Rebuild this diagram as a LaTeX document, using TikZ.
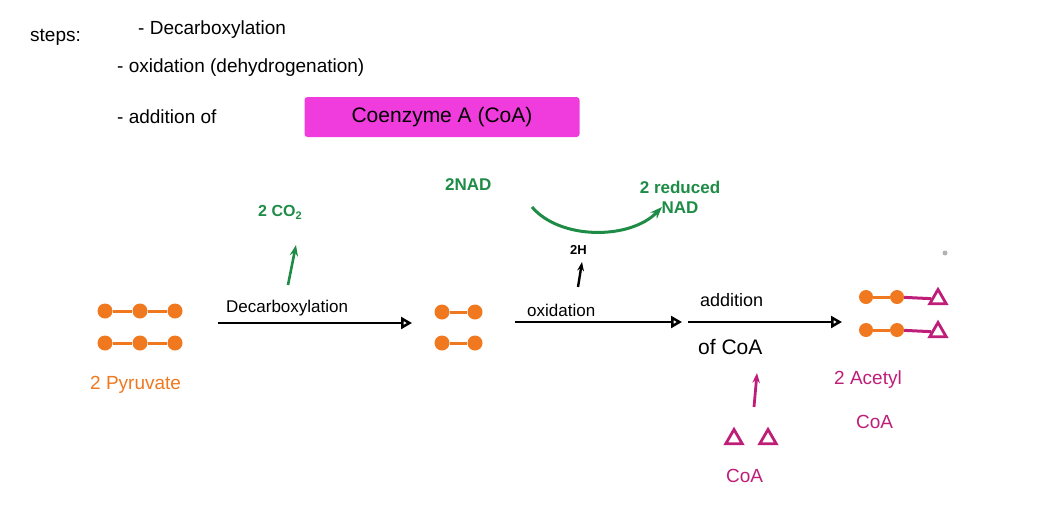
\documentclass[tikz,border=0pt]{standalone}
\usepackage{fontspec}
\setmainfont{Liberation Sans}
\usetikzlibrary{arrows.meta,shapes.geometric}
\definecolor{org}{RGB}{240,120,30}
\definecolor{grn}{RGB}{30,140,70}
\definecolor{mag}{RGB}{190,30,120}
\definecolor{pink}{RGB}{240,60,220}
\begin{document}
\begin{tikzpicture}[x=1pt,y=-1pt,
  txt/.style={font=\fontsize{19}{21}\selectfont,anchor=west,inner sep=0},
  ball/.style={circle,fill=org,minimum size=15pt,inner sep=0},
  tri/.style={draw=mag,line width=2.8pt,regular polygon,regular polygon sides=3,minimum size=19pt,inner sep=0},
  flow/.style={line width=2.5pt,-{Triangle[open,length=11pt,width=12pt]}},
  bond/.style={line width=3pt}]
\useasboundingbox (0,0) rectangle (1054,509);
\node[txt] (s) at (30,37) {steps:};
\node[txt] (s1) at (138,30) {- Decarboxylation};
\node[txt] (s2) at (117,68) {- oxidation (dehydrogenation)};
\node[txt] (s3) at (117,117) {- addition of};
\node[fill=pink,rounded corners=3pt,minimum width=275pt,minimum height=40pt,font=\fontsize{21}{23}\selectfont] (coe) at (442,117) {Coenzyme A (CoA)};
% pyruvate
\foreach \y/\r in {311/a,343/b}{
 \node[ball] (p\r1) at (105,\y) {};\node[ball] (p\r2) at (140,\y) {};\node[ball] (p\r3) at (175,\y) {};
 \draw[org,bond] (p\r1)--(p\r2)--(p\r3);}
\node[txt,text=org] (pyr) at (90,385) {2 Pyruvate};
\coordinate (d1) at (218,323); \coordinate (d2) at (412,323);
\draw[flow] (d1)--(d2);
\node[txt,font=\fontsize{17}{19}\selectfont] (dl) at (226,308) {Decarboxylation};
\node[txt,text=grn,font=\bfseries\fontsize{16}{18}\selectfont] (co2) at (258,212) {2 CO\raisebox{-0.35ex}{\fontsize{11}{12}\selectfont 2}};
\coordinate (c1) at (288,285); \coordinate (c2) at (296,245);
\draw[grn,line width=2.6pt,-{Stealth[length=11pt]}] (c1)--(c2);
% middle
\foreach \y/\r in {312/a,343/b}{
 \node[ball] (m\r1) at (442,\y) {};\node[ball] (m\r2) at (475,\y) {};
 \draw[org,bond] (m\r1)--(m\r2);}
\coordinate (o1) at (515,322); \coordinate (o2) at (682,322);
\draw[flow] (o1)--(o2);
\node[txt,font=\fontsize{17}{19}\selectfont] (ol) at (527,310) {oxidation};
\node[txt,font=\bfseries\fontsize{13}{15}\selectfont] (h) at (570,250) {2H};
\coordinate (h1) at (578,287); \coordinate (h2) at (582,262);
\draw[line width=2.4pt,-{Stealth[length=9pt]}] (h1)--(h2);
\node[txt,text=grn,font=\bfseries\fontsize{17}{19}\selectfont] (nad) at (445,185) {2NAD};
\node[txt,text=grn,font=\bfseries\fontsize{17}{20}\selectfont,align=center,anchor=center] (rnad) at (680,197) {2 reduced\\NAD};
\coordinate (n1) at (532,207); \coordinate (n2) at (662,207);
\draw[grn,line width=3pt,-{Stealth[length=12pt]}] (n1) .. controls (560,240) and (630,240) .. (n2);
% addition
\coordinate (a1) at (688,322); \coordinate (a2) at (842,322);
\draw[flow] (a1)--(a2);
\node[txt,font=\fontsize{18}{20}\selectfont] (al) at (700,300) {addition};
\node[txt,font=\fontsize{21}{23}\selectfont] (al2) at (698,347) {of CoA};
\coordinate (k1) at (754,407); \coordinate (k2) at (757,373);
\draw[mag,line width=2.8pt,-{Stealth[length=10pt]}] (k1)--(k2);
\node[tri] (t1) at (734,439) {}; \node[tri] (t2) at (768,439) {};
\node[txt,text=mag] (coa) at (726,476) {CoA};
% acetyl CoA
\foreach \y/\r in {297/a,330/b}{
 \node[ball,minimum size=14pt] (r\r1) at (866,\y) {};\node[ball,minimum size=14pt] (r\r2) at (897,\y) {};
 \node[tri] (r\r3) at (938,\y+2) {};
 \draw[org,bond] (r\r1)--(r\r2); \draw[mag,bond] (r\r2)--(r\r3);}
\node[txt,text=mag] (ac) at (834,380) {2 Acetyl};
\node[txt,text=mag] (ac2) at (856,422) {CoA};
\fill[gray!60] (945,253) circle (2.5pt);
\end{tikzpicture}
\end{document}
